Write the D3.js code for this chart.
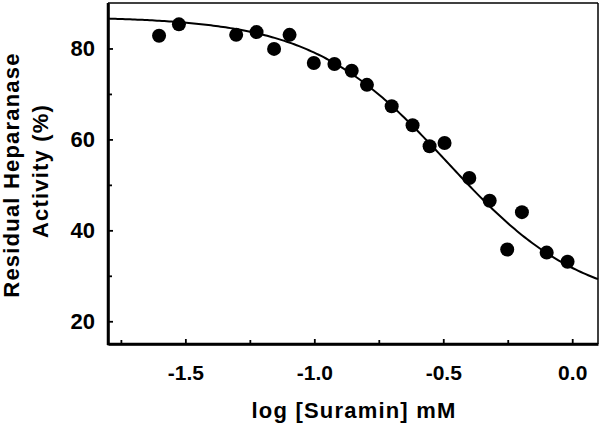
<!DOCTYPE html>
<html>
<head>
<meta charset="utf-8">
<script src="https://cdn.jsdelivr.net/npm/d3@7"></script>
<style>
  html, body { margin: 0; padding: 0; background: #fff; }
  svg { display: block; }
  text { font-family: "Liberation Sans", Arial, sans-serif; font-weight: bold; fill: #000; }
</style>
</head>
<body>
<svg id="chart" width="602" height="428"></svg>
<script>
// Data
const logSuramin = [-1.602, -1.525, -1.303, -1.224, -1.156, -1.096, -1.002, -0.922, -0.855, -0.796,
                    -0.700, -0.619, -0.553, -0.495, -0.399, -0.320, -0.195, -0.252, -0.099, -0.018];
const activity   = [82.8, 85.3, 83.0, 83.6, 79.9, 83.0, 76.8, 76.6, 75.1, 72.0,
                    67.3, 63.1, 58.5, 59.2, 51.5, 46.5, 44.0, 35.8, 35.1, 33.1];
const xMajorTicks = [-1.5, -1.0, -0.5, 0.0];
const xMinorTicks = [-1.75, -1.25, -0.75, -0.25];
const yMajorTicks = [20, 40, 60, 80];
const yMinorTicks = [30, 50, 70];
// Fitted sigmoid (4-parameter logistic)
const fitTop = 87, fitBottom = 23, fitLogIC50 = -0.485, fitHill = 1.65;

const svg = d3.select("#chart");
const L = 108, R = 598, T = 3, B = 344;
const x = d3.scaleLinear().domain([-1.8, 0.1]).range([L, R]);
const y = d3.scaleLinear().domain([15, 90]).range([B, T]);

// frame top/right
svg.append("line").attr("x1", L).attr("x2", R).attr("y1", T).attr("y2", T)
  .attr("stroke", "#000").attr("stroke-width", 1.5);
svg.append("line").attr("x1", R).attr("x2", R).attr("y1", T).attr("y2", B)
  .attr("stroke", "#000").attr("stroke-width", 1.5);

const fmtX = d => (d < 0 ? "-" : "") + Math.abs(d).toFixed(1);

// x axis
const gx = svg.append("g").attr("transform", `translate(0,${B})`)
  .call(d3.axisBottom(x).tickValues(xMajorTicks).tickFormat(fmtX).tickSizeInner(-5).tickSizeOuter(0).tickPadding(15));
gx.selectAll("text").attr("font-size", "21px").attr("dy", "0.71em").attr("y", 21)
  .style("font-family", "'Liberation Sans', Arial, sans-serif").style("font-weight", "bold");
const gxm = svg.append("g").attr("transform", `translate(0,${B})`)
  .call(d3.axisBottom(x).tickValues(xMinorTicks).tickFormat("").tickSizeInner(-4).tickSizeOuter(0));

// y axis
const gy = svg.append("g").attr("transform", `translate(${L},0)`)
  .call(d3.axisLeft(y).tickValues(yMajorTicks).tickFormat(d3.format("d")).tickSizeInner(-5).tickSizeOuter(0).tickPadding(14));
gy.selectAll("text").attr("font-size", "22px").attr("x", -13)
  .style("font-family", "'Liberation Sans', Arial, sans-serif").style("font-weight", "bold");
const gym = svg.append("g").attr("transform", `translate(${L},0)`)
  .call(d3.axisLeft(y).tickValues(yMinorTicks).tickFormat("").tickSizeInner(-4).tickSizeOuter(0));

[gx, gxm, gy, gym].forEach(g => {
  g.select(".domain").attr("stroke", "#000").attr("stroke-width", 2.5);
  g.selectAll(".tick line").attr("stroke", "#000").attr("stroke-width", 1.8);
});
gx.select(".domain").attr("d", `M${L - 1},0H${R}`);
gy.select(".domain").attr("d", `M0,${B + 1}V${T}`);

// fitted curve
const curveX = d3.range(0, 201).map(i => -1.8 + i * (1.9 / 200));
const logistic = v => fitBottom + (fitTop - fitBottom) / (1 + Math.pow(10, fitHill * (v - fitLogIC50)));
svg.append("path")
  .datum(curveX)
  .attr("fill", "none").attr("stroke", "#000").attr("stroke-width", 2)
  .attr("d", d3.line().x(d => x(d)).y(d => y(logistic(d))));

// points
svg.append("g").selectAll("circle")
  .data(logSuramin.map((v, i) => [v, activity[i]]))
  .join("circle")
  .attr("cx", d => x(d[0])).attr("cy", d => y(d[1])).attr("r", 7).attr("fill", "#000");

// axis titles
svg.append("text").attr("x", 354).attr("y", 418).attr("text-anchor", "middle")
  .attr("font-size", "22px").attr("letter-spacing", "1.2px").text("log [Suramin] mM");
svg.append("text").attr("transform", "translate(19,175) rotate(-90)").attr("text-anchor", "middle")
  .attr("font-size", "22px").attr("letter-spacing", "1.2px").text("Residual Heparanase");
svg.append("text").attr("transform", "translate(48,171) rotate(-90)").attr("text-anchor", "middle")
  .attr("font-size", "22px").attr("letter-spacing", "1.2px").text("Activity (%)");
</script>
</body>
</html>
